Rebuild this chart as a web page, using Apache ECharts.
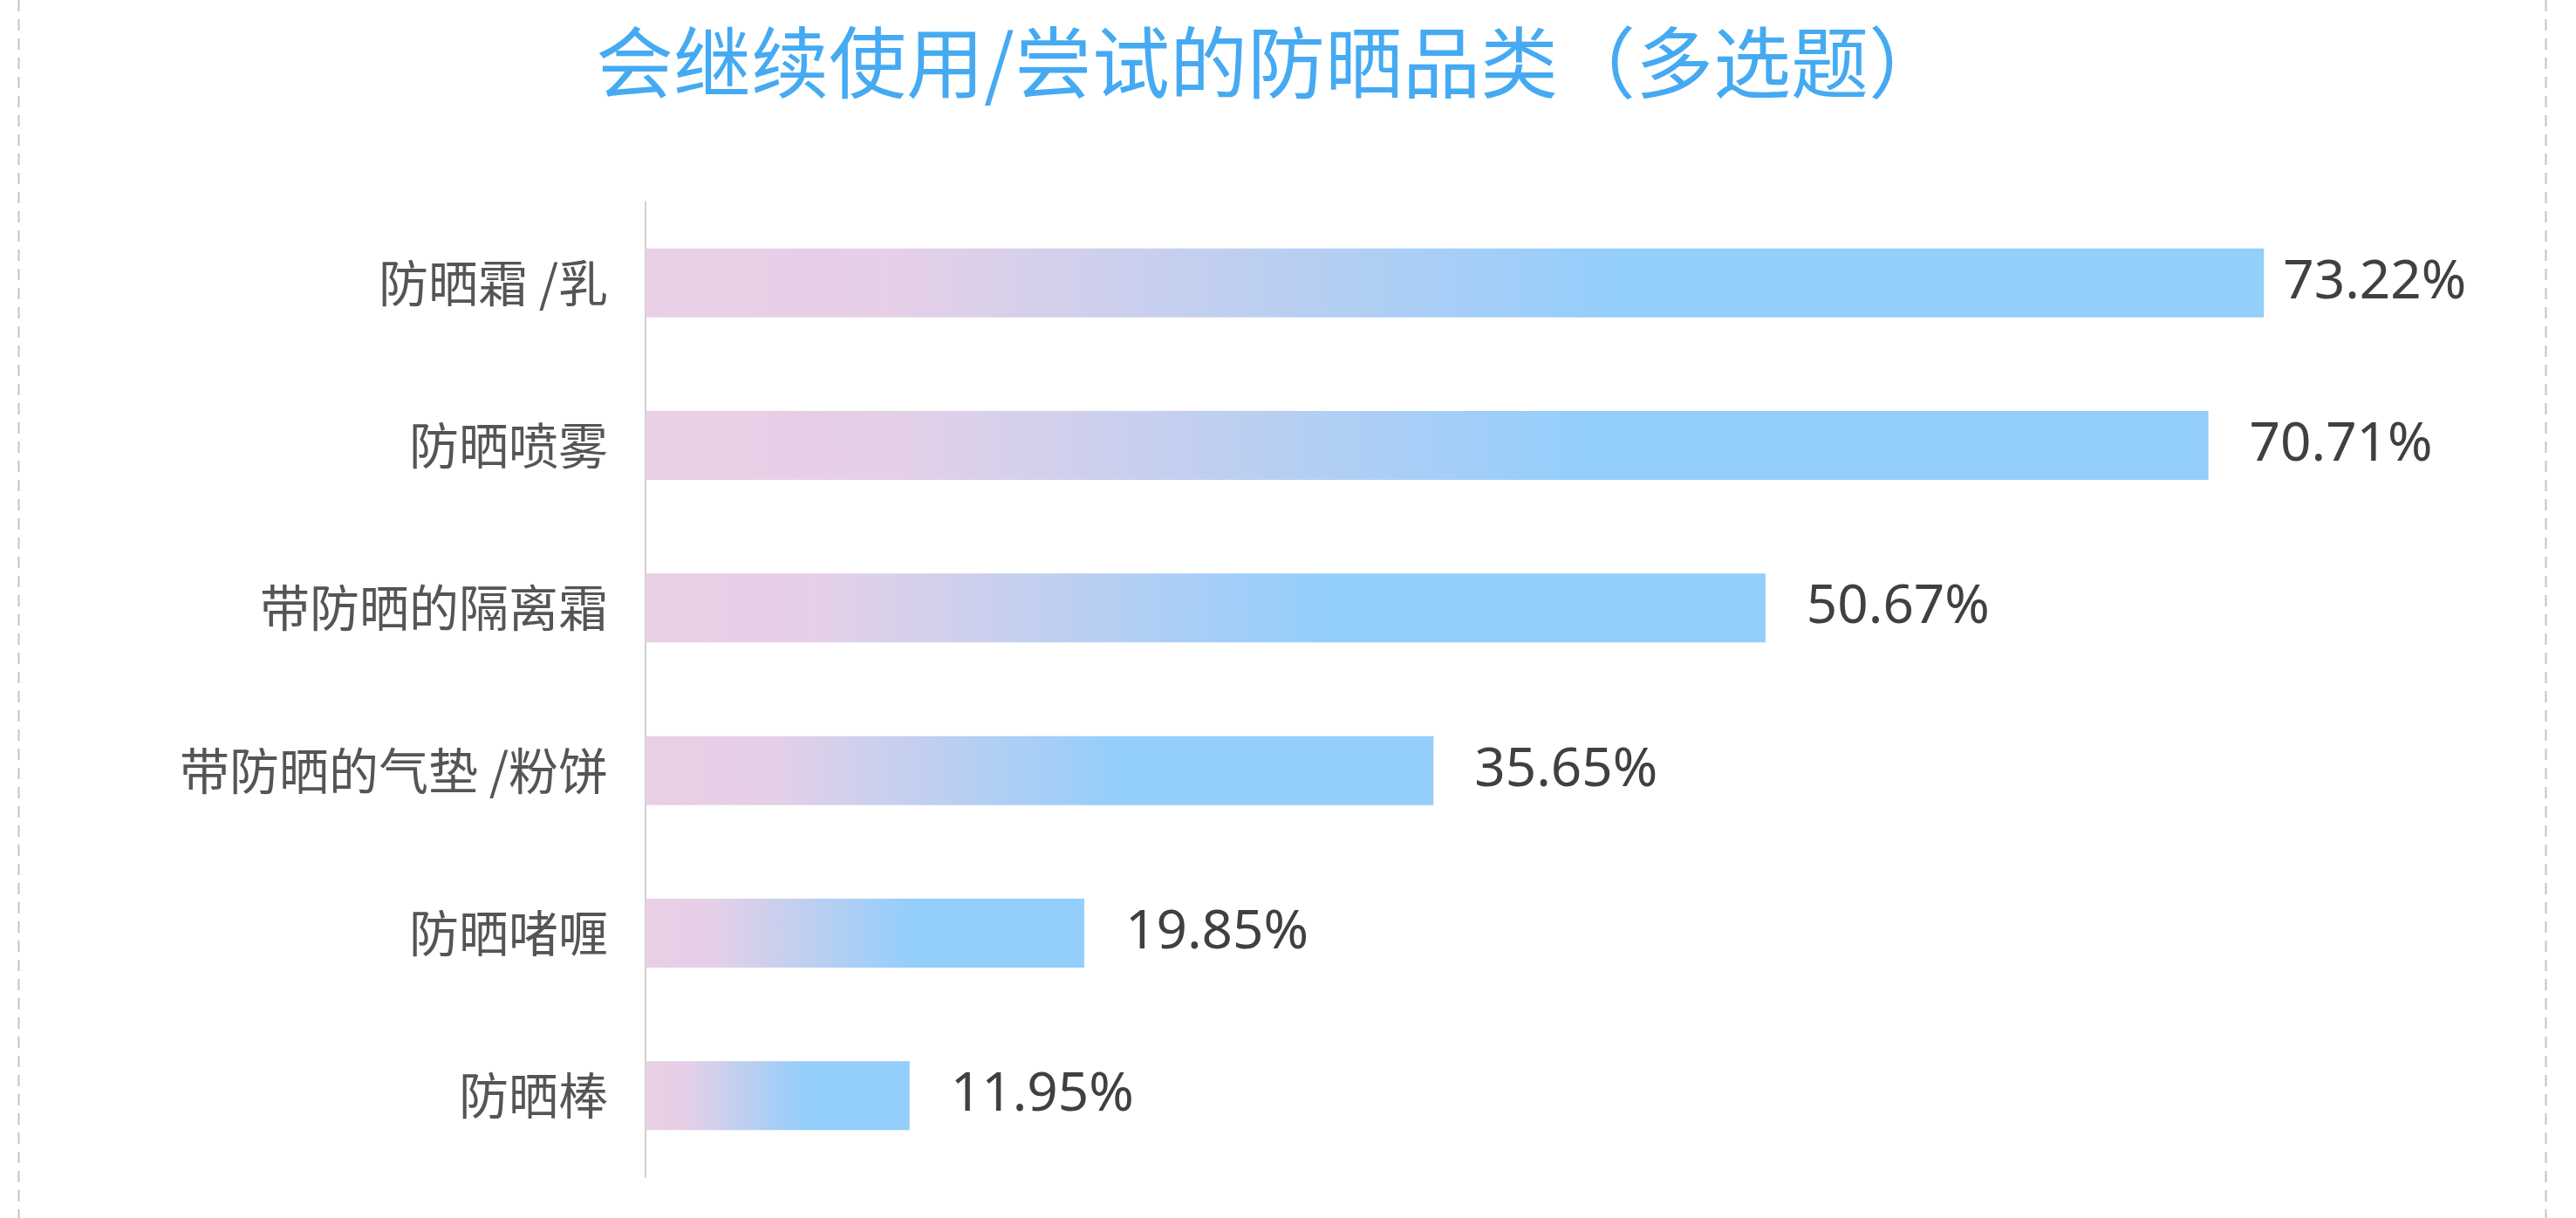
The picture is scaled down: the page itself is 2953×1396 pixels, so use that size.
<!DOCTYPE html>
<html>
<head>
<meta charset="utf-8">
<script src="https://cdn.jsdelivr.net/npm/echarts@6/dist/echarts.min.js"></script>
<style>
html,body{margin:0;padding:0;background:#fff;}
#chart{width:2953px;height:1396px;}
</style>
</head>
<body>
<div id="chart"></div>
<script>
var titleText = '会继续使用/尝试的防晒品类（多选题）';
var categories = ['防晒霜 /乳', '防晒喷雾', '带防晒的隔离霜', '带防晒的气垫 /粉饼', '防晒啫喱', '防晒棒'];
var values = [73.22, 70.71, 50.67, 35.65, 19.85, 11.95];

var chart = echarts.init(document.getElementById('chart'));

var barGradient = new echarts.graphic.LinearGradient(0, 0, 1, 0, [
  {offset: 0, color: '#e8cfe6'},
  {offset: 0.15, color: '#e6d0e7'},
  {offset: 0.6, color: '#94cefb'},
  {offset: 1, color: '#94cefb'}
]);

var seriesData = values.map(function (v, i) {
  var item = {value: v};
  if (i === 0) item.label = {distance: 22};
  return item;
});

chart.setOption({
  backgroundColor: '#ffffff',
  animation: false,
  title: {
    text: titleText,
    left: 1452,
    textAlign: 'center',
    top: 22,
    textStyle: {
      color: '#45aaf2',
      fontSize: 89,
      fontWeight: 'normal',
      fontFamily: 'Noto Sans CJK SC'
    }
  },
  graphic: [
    {type: 'line', shape: {x1: 21.5, y1: 0, x2: 21.5, y2: 1396},
     style: {stroke: '#c4c4c4', lineWidth: 2, lineDash: [13, 9]}},
    {type: 'line', shape: {x1: 2918.5, y1: 0, x2: 2918.5, y2: 1396},
     style: {stroke: '#c4c4c4', lineWidth: 2, lineDash: [13, 9]}}
  ],
  grid: {left: 740, right: 186, top: 231, bottom: 47, containLabel: false},
  xAxis: {
    type: 'value',
    min: 0,
    max: 80,
    show: false
  },
  yAxis: {
    type: 'category',
    inverse: true,
    data: categories,
    axisLine: {show: true, lineStyle: {color: '#d0d0d0', width: 2}},
    axisTick: {show: false},
    axisLabel: {
      margin: 43,
      color: '#555555',
      fontSize: 57,
      fontFamily: 'Noto Sans CJK SC'
    }
  },
  series: [{
    type: 'bar',
    data: seriesData,
    barWidth: 79,
    itemStyle: {color: barGradient},
    label: {
      show: true,
      position: 'right',
      distance: 47,
      color: '#404040',
      fontSize: 62,
      fontFamily: 'Noto Sans',
      formatter: function (p) { return p.value.toFixed(2) + '%'; }
    }
  }]
});
</script>
</body>
</html>
